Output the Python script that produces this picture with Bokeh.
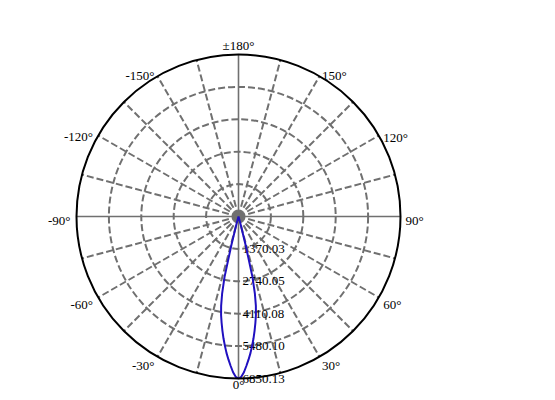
import numpy as np
from bokeh.plotting import figure
from bokeh.models import Range1d
from bokeh.core.properties import value
from bokeh.embed import file_html
from bokeh.resources import INLINE

# ---- data ----
half_angles = [0, 1, 2, 3, 4, 5, 6, 7, 8, 9, 10, 11, 12, 13, 14, 15, 16, 17, 180]
half_intensity = [6850, 6780, 6590, 6330, 6070, 5800, 5500, 5200, 4880, 4560,
                  4240, 3850, 3330, 2630, 1250, 300, 50, 0, 0]
ring_values = [1370.03, 2740.05, 4110.08, 5480.10, 6850.13]
ring_labels = ["1370.03", "2740.05", "4110.08", "5480.10", "6850.13"]
label_angles = [180, 150, 120, 90, 60, 30, 0, -30, -60, -90, -120, -150]
label_texts = ["±180°", "150°", "120°", "90°", "60°", "30°", "0°",
               "-30°", "-60°", "-90°", "-120°", "-150°"]

R = ring_values[-1]
k = R / 162.0  # data units per pixel
W, H = 539, 392
cx_px, cy_px = 238, 216
FONT = value("Liberation Serif")

p = figure(width=W, height=H,
           x_range=Range1d(-cx_px * k, (W - cx_px) * k),
           y_range=Range1d(-(H - cy_px) * k, cy_px * k),
           output_backend="svg", toolbar_location=None, min_border=0,
           x_axis_location=None, y_axis_location=None)
p.grid.visible = False
p.outline_line_color = None
p.background_fill_color = "white"

grid_col = "#707070"

# dashed rings
p.circle(x=[0] * 4, y=[0] * 4, radius=ring_values[:4], fill_color=None,
         line_color=grid_col, line_width=2, line_dash="7 3")

# spokes
dashed_x, dashed_y, solid_x, solid_y = [], [], [], []
for a in range(0, 360, 15):
    t = np.radians(a)
    xs = [0, R * np.sin(t)]
    ys = [0, -R * np.cos(t)]
    if a % 90 == 0:
        solid_x.append(xs); solid_y.append(ys)
    else:
        dashed_x.append(xs); dashed_y.append(ys)
p.multi_line(dashed_x, dashed_y, line_color=grid_col, line_width=2, line_dash="7 3")
p.multi_line(solid_x, solid_y, line_color=grid_col, line_width=1.6)

p.scatter(x=[0], y=[0], size=10, color=grid_col)

# ring labels
p.text(x=[4 * k] * len(ring_values), y=[-v for v in ring_values], text=ring_labels,
       text_font=FONT, text_font_size="13px",
       text_align="left", text_baseline="middle", text_color="black")

# angle labels
groups = {}
for a, s in zip(label_angles, label_texts):
    t = np.radians(a)
    sn, cs = np.sin(t), np.cos(t)
    if abs(sn) < 1e-6 and cs < 0:
        al, bl, rr, shift = "center", "middle", R + 9 * k, 0
    elif abs(sn) < 1e-6:
        al, bl, rr, shift = "center", "bottom", R + 13.5 * k, 0
    elif sn > 0:
        al, bl, rr, shift = "left", "middle", R + 5 * k, -4 * k
    else:
        al, bl, rr, shift = "right", "middle", R + 6 * k, -4 * k
    gx, gy, gt = groups.setdefault((al, bl), ([], [], []))
    gx.append(rr * sn)
    gy.append(-rr * cs + shift)
    gt.append(s)
for (al, bl), (gx, gy, gt) in groups.items():
    p.text(x=gx, y=gy, text=gt, text_font=FONT,
           text_font_size="13px", text_align=al, text_baseline=bl,
           text_color="black")

# curve
ang = [-a for a in half_angles[::-1]] + half_angles[1:]
inten = half_intensity[::-1] + half_intensity[1:]
th = np.radians(ang)
cx = np.array(inten) * np.sin(th)
cy = -np.array(inten) * np.cos(th)
p.line(cx, cy, line_color="#2010c0", line_width=2)

# outer circle
p.circle(x=[0], y=[0], radius=[R], fill_color=None, line_color="black", line_width=2)

open("out.html", "w").write(file_html(p, INLINE))
